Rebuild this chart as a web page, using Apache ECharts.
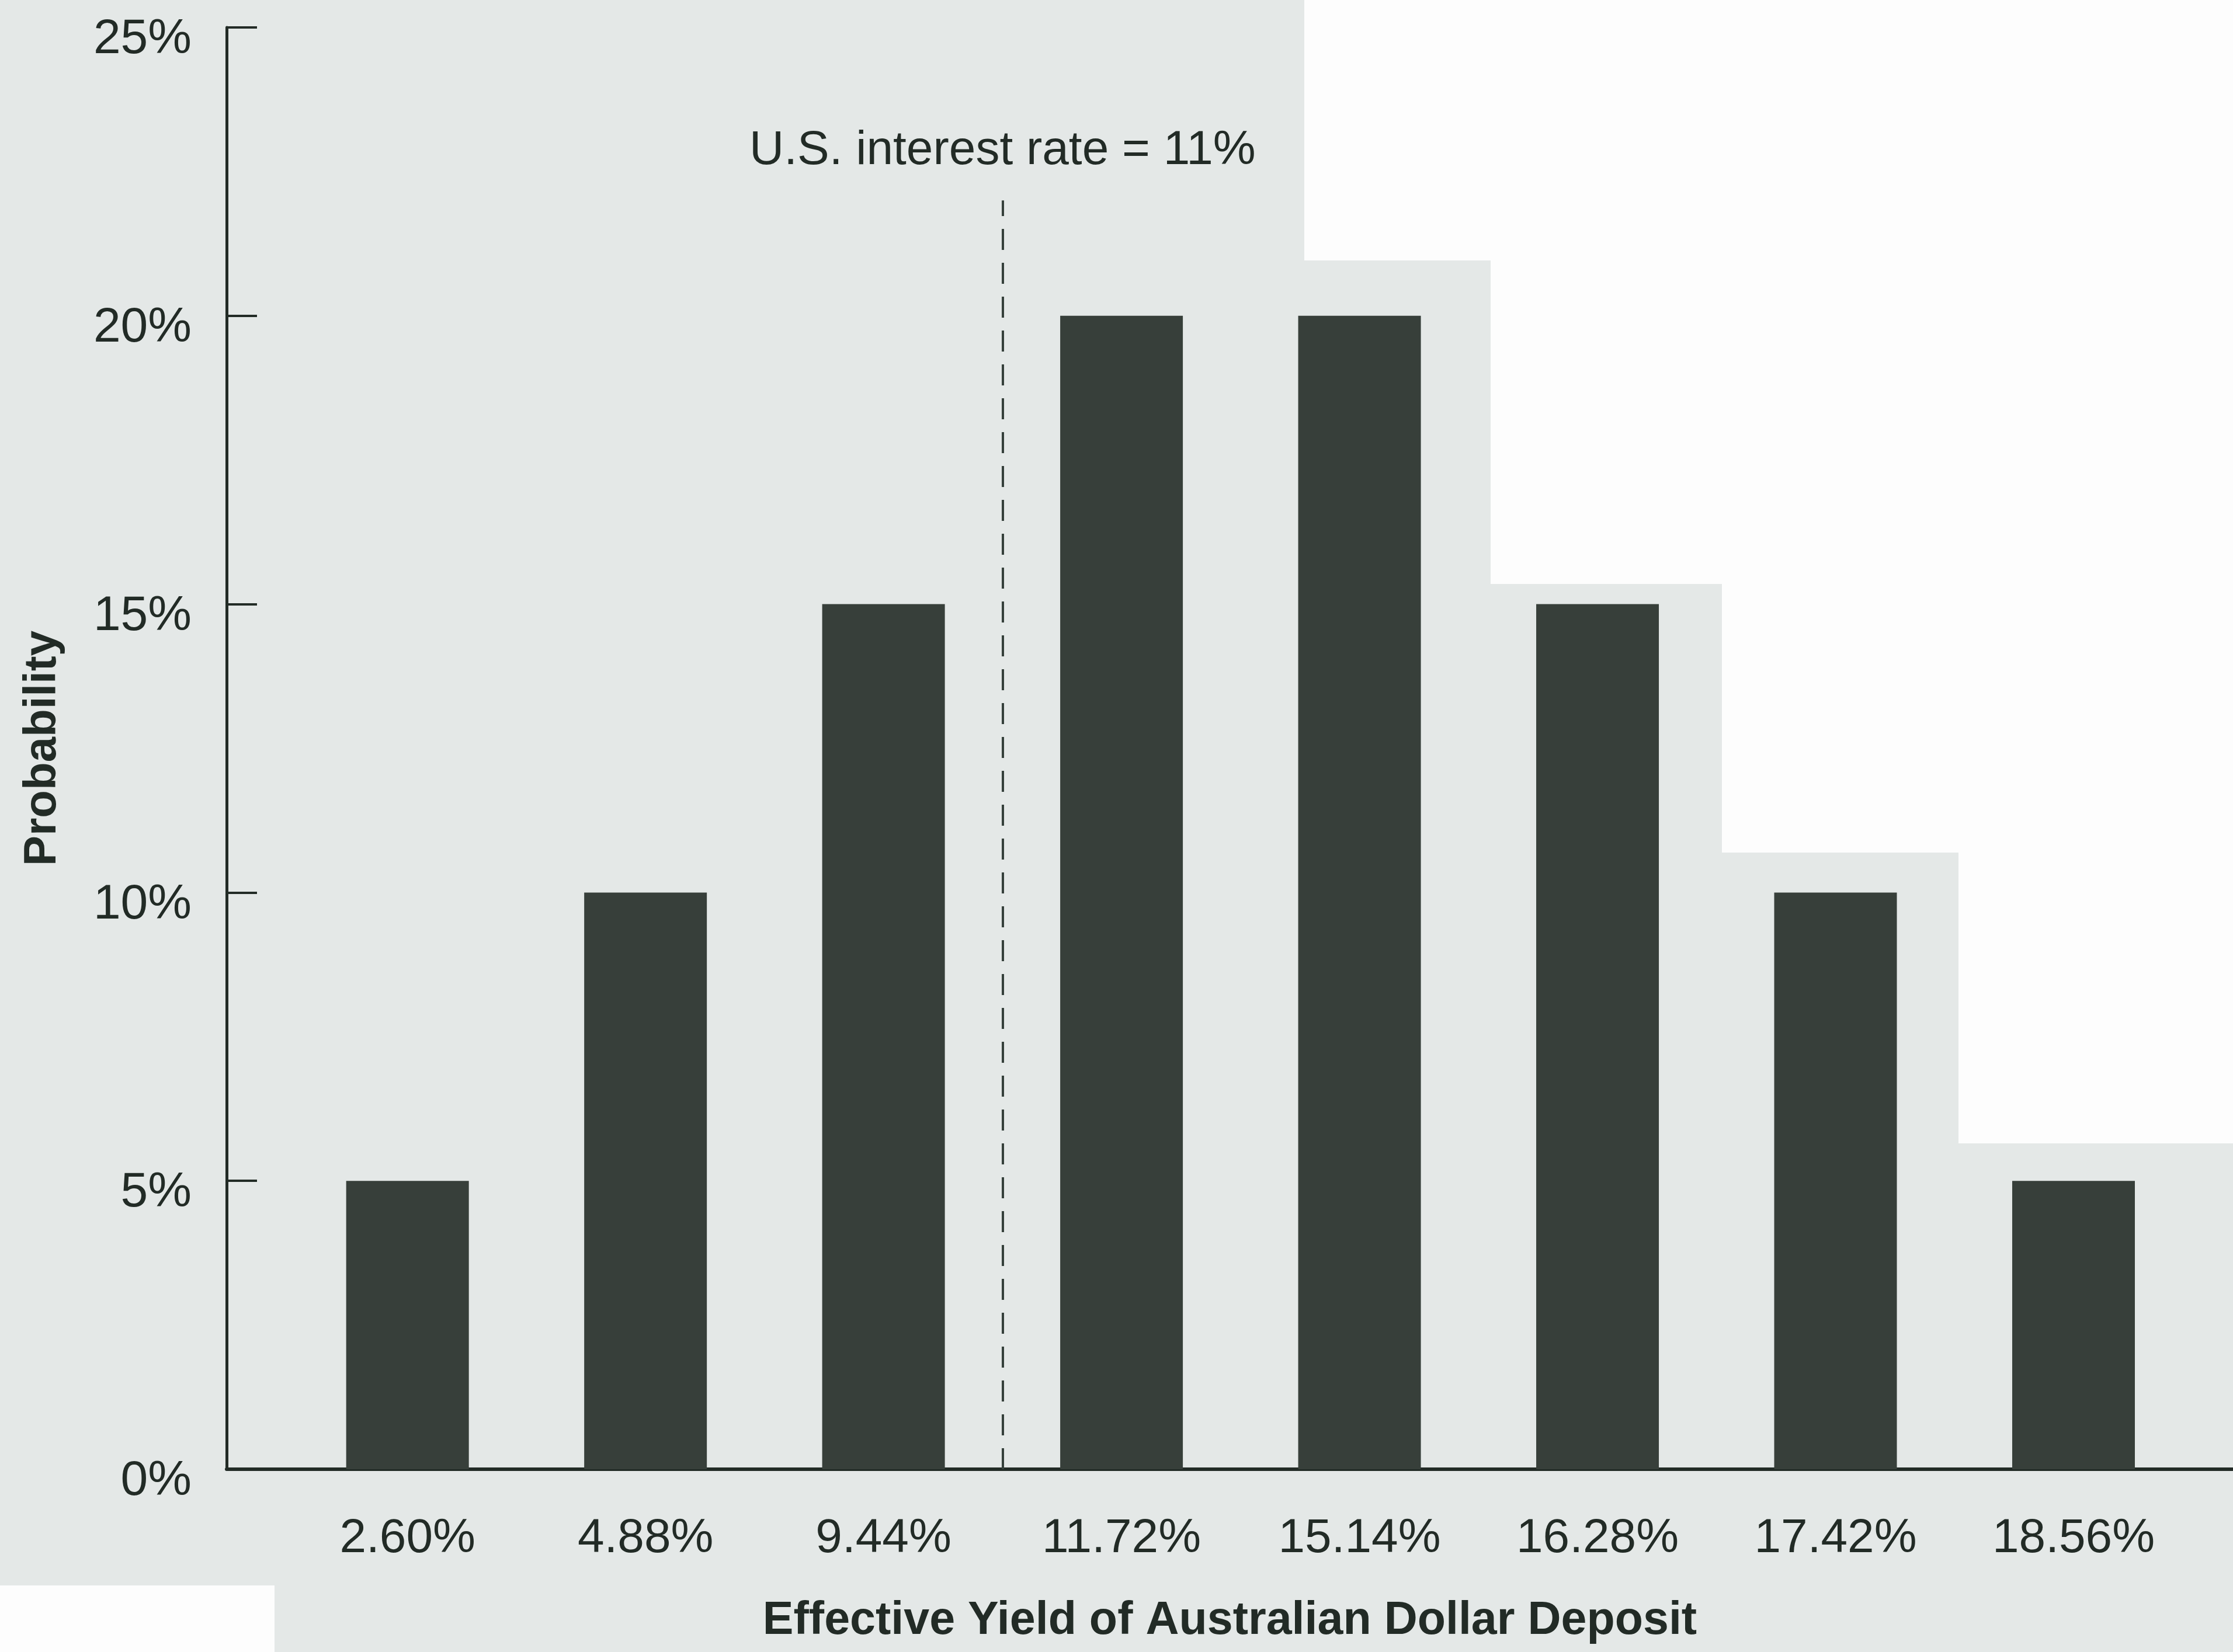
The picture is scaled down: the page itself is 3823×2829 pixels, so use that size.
<!DOCTYPE html>
<html>
<head>
<meta charset="utf-8">
<script src="https://cdn.jsdelivr.net/npm/echarts@6/dist/echarts.min.js"></script>
<style>
  html, body { margin: 0; padding: 0; background: #e4e8e7; }
  #chart { width: 3823px; height: 2829px; }
</style>
</head>
<body>
<div id="chart"></div>
<script>
// effective yield outcomes and their probabilities (%)
const yieldLabels = ['2.60%', '4.88%', '9.44%', '11.72%', '15.14%', '16.28%', '17.42%', '18.56%']
const probabilities = [5, 10, 15, 20, 20, 15, 10, 5]
const probabilityTicks = [0, 5, 10, 15, 20, 25]

// reference line for the U.S. rate, drawn between 9.44% and 11.72%
const usRateLabel = 'U.S. interest rate = 11%'
const usRateAfter = '9.44%'
const usRateLineTop = 22

const ink = '#222b26'
const barColor = '#373f3a'
const font = "'Liberation Sans', Arial, sans-serif"

const chart = echarts.init(document.getElementById('chart'))

const barData = probabilities.map((p, i) => [i, p])
const usRatePos = yieldLabels.indexOf(usRateAfter) + 0.5

const option = {
  backgroundColor: '#e4e8e7',
  animation: false,
  // white paper patches of the scan
  graphic: [
    {
      type: 'polygon',
      z: -10,
      silent: true,
      shape: {
        points: [[2233, 0], [3823, 0], [3823, 1958], [3353, 1958], [3353, 1460],
          [2948, 1460], [2948, 1000], [2552, 1000], [2552, 446], [2233, 446]]
      },
      style: { fill: '#fdfdfd' }
    },
    {
      type: 'rect',
      z: -10,
      silent: true,
      shape: { x: 0, y: 2715, width: 470, height: 114 },
      style: { fill: '#fdfdfd' }
    }
  ],
  grid: { left: 388, right: 0, top: 47, bottom: 313, containLabel: false },
  xAxis: {
    type: 'value',
    min: -0.76,
    max: 7.67,
    splitLine: { show: false },
    axisTick: { show: false },
    axisLine: { show: true, lineStyle: { color: ink, width: 6 } },
    axisLabel: {
      customValues: yieldLabels.map((_, i) => i),
      formatter: (v) => yieldLabels[Math.round(v)],
      fontFamily: font,
      fontSize: 82,
      color: ink,
      margin: 78
    },
    name: 'Effective Yield of Australian Dollar Deposit',
    nameLocation: 'middle',
    nameGap: 221,
    nameTextStyle: { fontFamily: font, fontSize: 79, fontWeight: 'bold', color: ink }
  },
  yAxis: {
    type: 'value',
    min: 0,
    max: 25,
    interval: 5,
    splitLine: { show: false },
    axisLine: { show: true, onZero: false, lineStyle: { color: ink, width: 5 } },
    axisTick: { show: true, inside: true, length: 52, lineStyle: { color: ink, width: 4 } },
    axisLabel: {
      formatter: (v) => probabilityTicks.includes(v) ? v + '%' : '',
      fontFamily: font,
      fontSize: 84,
      color: ink,
      margin: 60,
      verticalAlign: 'top',
      lineHeight: 42
    },
    name: 'Probability',
    nameLocation: 'middle',
    nameGap: 276,
    nameTextStyle: { fontFamily: font, fontSize: 78, fontWeight: 'bold', color: ink }
  },
  series: [{
    type: 'bar',
    data: barData,
    barWidth: 210,
    itemStyle: { color: barColor },
    markLine: {
      silent: true,
      symbol: ['none', 'none'],
      lineStyle: { color: '#36413c', width: 4, type: [36, 22] },
      label: {
        show: true,
        position: 'end',
        formatter: usRateLabel,
        fontFamily: font,
        fontSize: 82,
        color: ink,
        distance: 44
      },
      data: [[{ coord: [usRatePos, 0] }, { coord: [usRatePos, usRateLineTop] }]]
    }
  }]
}

chart.setOption(option)
</script>
</body>
</html>
